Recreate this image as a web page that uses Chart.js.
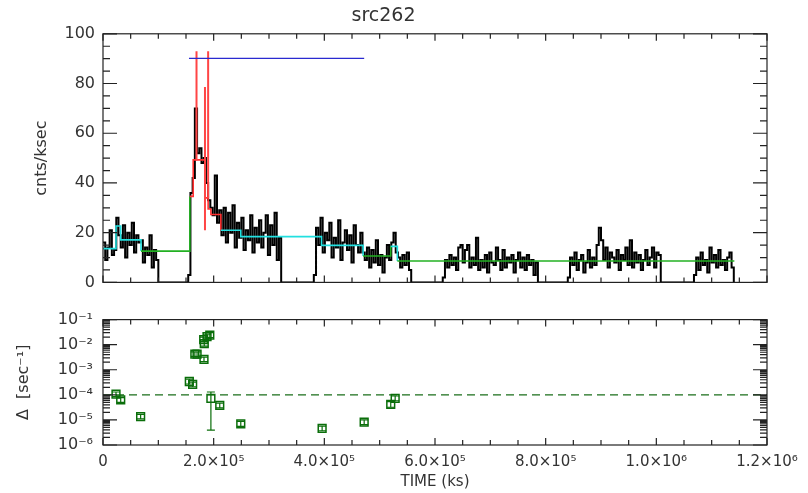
<!DOCTYPE html>
<html>
<head>
<meta charset="utf-8">
<script src="https://cdn.jsdelivr.net/npm/chart.js@4/dist/chart.umd.min.js"></script>
<style>
  body { margin: 0; background: #fff; }
  #wrap { position: relative; width: 808px; height: 493px; }
  canvas { position: absolute; left: 0; }
</style>
</head>
<body>
<div id="wrap">
  <canvas id="lcChart" width="808" height="300" style="top:0"></canvas>
  <canvas id="deltaChart" width="808" height="193" style="top:300px"></canvas>
</div>
<script>
// light curve: 4 ks bins, one array per good-time segment
const binWidth = 4000;
const segStart = [0, 1.54e5, 3.81e5, 6.14e5, 8.40e5, 1.068e6];
const rateA = [16, 9, 14, 21, 11, 13, 26, 19, 14, 23, 10, 20, 15, 24, 12, 19, 16, 17, 8, 14, 11, 19, 6, 13, 9];
const rateB = [3, 36, 42, 70, 52, 54, 48, 50, 40, 33, 30, 27, 43, 24, 29, 19, 30, 16, 28, 20, 31, 14, 24, 18, 26, 13, 21, 17, 27, 12, 22, 16, 25, 14, 20, 27, 11, 23, 15, 28, 9, 18];
const rateC = [3, 22, 15, 26, 12, 20, 17, 24, 10, 18, 14, 25, 9, 16, 21, 13, 19, 8, 23, 15, 12, 20, 12, 9, 14, 6, 13, 8, 17, 7, 11, 4, 10, 15, 9, 16, 20, 12, 10, 6, 11, 7, 12, 5];
const rateD = [2, 9, 6, 11, 7, 10, 5, 14, 15, 8, 13, 15, 6, 10, 7, 18, 5, 9, 6, 11, 4, 12, 8, 7, 14, 9, 5, 13, 6, 10, 8, 11, 4, 9, 12, 6, 10, 5, 11, 7, 9, 3, 8];
const rateE = [2, 10, 7, 12, 5, 9, 11, 4, 8, 13, 6, 10, 7, 15, 22, 17, 9, 14, 6, 12, 10, 8, 13, 5, 11, 9, 14, 7, 17, 6, 12, 8, 11, 5, 9, 13, 7, 10, 14, 6, 12, 11];
const rateF = [3, 10, 5, 12, 7, 9, 4, 14, 8, 11, 6, 13, 7, 9, 5, 10, 12, 6];
const segRates = [rateA, rateB, rateC, rateD, rateE, rateF];

// bayesian blocks
const blockStart = [0, 2.35e4, 3.2e4, 6.87e4, 1.57e5, 1.63e5, 1.84e5, 1.90e5, 1.95e5, 2.13e5, 2.49e5, 3.95e5, 4.70e5, 5.20e5, 5.32e5];
const blockLevel = [13.6, 22.7, 17.1, 12.6, 34.6, 49.3, 34.0, 29.5, 27.3, 21.0, 18.4, 14.9, 10.6, 14.5, 8.6];
const blockKind = ['c', 'c', 'c', 'g', 'r', 'r', 'r', 'r', 'r', 'c', 'c', 'c', 'g', 'c', 'g'];
const blockEnd = 1.141e6;

// flare markers
const spikeT = [1.69e5, 1.843e5, 1.90e5];
const spikeLow = [49, 21, 34];
const spikeHigh = [93, 78.6, 93];
const flareStart = 1.554e5, flareEnd = 4.72e5, flareLevel = 90.1;

// lower panel: Delta per block
const deltaT = [2.35e4, 3.2e4, 6.8e4, 1.56e5, 1.62e5, 1.66e5, 1.70e5, 1.82e5, 1.83e5, 1.825e5, 1.88e5, 1.93e5, 1.95e5, 2.11e5, 2.49e5, 3.96e5, 4.72e5, 5.20e5, 5.28e5];
const deltaVal = [1.07e-4, 6.3e-5, 1.34e-5, 3.4e-4, 2.6e-4, 4.2e-3, 4.2e-3, 1.6e-2, 1.1e-2, 2.6e-3, 2.1e-2, 2.4e-2, 7.2e-5, 3.8e-5, 7.0e-6, 4.6e-6, 8.1e-6, 4.2e-5, 7.2e-5];
const deltaLo = [8.5e-5, 5.0e-5, 1.1e-5, 2.7e-4, 2.1e-4, 3.4e-3, 3.4e-3, 1.3e-2, 8.8e-3, 2.1e-3, 1.7e-2, 1.9e-2, 3.9e-6, 3.0e-5, 5.5e-6, 3.7e-6, 6.5e-6, 3.2e-5, 5.8e-5];
const deltaHi = [1.3e-4, 7.8e-5, 1.65e-5, 4.2e-4, 3.2e-4, 5.2e-3, 5.2e-3, 2.0e-2, 1.4e-2, 3.2e-3, 2.6e-2, 3.0e-2, 1.3e-4, 4.7e-5, 8.8e-6, 5.7e-6, 1.0e-5, 5.4e-5, 9.0e-5];
const deltaThreshold = 1e-4;

// tick labels
const xTickValues = [0, 2e5, 4e5, 6e5, 8e5, 1e6, 1.2e6];
const xTickLabels = ['0', '2.0×10⁵', '4.0×10⁵', '6.0×10⁵', '8.0×10⁵', '1.0×10⁶', '1.2×10⁶'];
const logTickValues = [1e-6, 1e-5, 1e-4, 1e-3, 1e-2, 1e-1];
const logTickLabels = ['10⁻⁶', '10⁻⁵', '10⁻⁴', '10⁻³', '10⁻²', '10⁻¹'];

const textColor = '#333';
const axisColor = '#222';
const kindColor = { g: '#22b022', c: '#22e0e0', r: '#ff3030' };
Chart.defaults.font.family = "'DejaVu Sans', sans-serif";
Chart.defaults.color = textColor;

// IDL-ish box frame with inward ticks on all four sides
const idlFrame = {
  id: 'idlFrame',
  afterDatasetsDraw(chart, args, opts) {
    const { ctx, chartArea: a, scales: { x, y } } = chart;
    ctx.save();
    ctx.strokeStyle = axisColor;
    ctx.lineWidth = 1.2;
    ctx.strokeRect(a.left, a.top, a.right - a.left, a.bottom - a.top);
    ctx.beginPath();
    for (let v = x.min; v <= x.max + 1; v += opts.xMinor) {
      const px = x.getPixelForValue(v);
      const major = Math.abs(v / opts.xMajor - Math.round(v / opts.xMajor)) < 1e-6;
      const len = major ? 7 : 5;
      ctx.moveTo(px, a.bottom); ctx.lineTo(px, a.bottom - len);
      ctx.moveTo(px, a.top); ctx.lineTo(px, a.top + len);
    }
    const yt = [];
    if (opts.yLog) {
      const d0 = Math.round(Math.log10(y.min)), d1 = Math.round(Math.log10(y.max));
      for (let d = d0; d < d1; d++) {
        for (let m = 1; m < 10; m++) yt.push([m * Math.pow(10, d), m === 1]);
      }
      yt.push([y.max, true]);
    } else {
      for (let v = y.min; v <= y.max + 1e-9; v += opts.yMinor) {
        yt.push([v, Math.abs(v / opts.yMajor - Math.round(v / opts.yMajor)) < 1e-6]);
      }
    }
    yt.forEach(([v, major]) => {
      const py = y.getPixelForValue(v);
      const len = major ? 14 : 7;
      ctx.moveTo(a.left, py); ctx.lineTo(a.left + len, py);
      ctx.moveTo(a.right, py); ctx.lineTo(a.right - len, py);
    });
    ctx.stroke();
    ctx.restore();
  }
};

// error bars for the Delta points
const errBars = {
  id: 'errBars',
  afterDatasetsDraw(chart) {
    const { ctx, scales: { x, y } } = chart;
    ctx.save();
    ctx.strokeStyle = '#0a6e0a';
    ctx.lineWidth = 1.2;
    ctx.beginPath();
    deltaT.forEach((t, i) => {
      const px = x.getPixelForValue(t);
      const lo = y.getPixelForValue(deltaLo[i]);
      const hi = y.getPixelForValue(deltaHi[i]);
      ctx.moveTo(px, lo); ctx.lineTo(px, hi);
      ctx.moveTo(px - 4, lo); ctx.lineTo(px + 4, lo);
      ctx.moveTo(px - 4, hi); ctx.lineTo(px + 4, hi);
    });
    ctx.stroke();
    ctx.restore();
  }
};

// build the light curve points
const curve = [];
segRates.forEach((rates, k) => {
  rates.forEach((r, i) => curve.push({ x: segStart[k] + i * binWidth, y: r }));
  curve.push({ x: segStart[k] + rates.length * binWidth, y: 0 });
});

const blocks = blockStart.map((t, i) => ({ x: t, y: blockLevel[i] }));
blocks.push({ x: blockEnd, y: blockLevel[blockLevel.length - 1] });

const spikeSets = spikeT.map((t, i) => ({
  data: [{ x: t, y: spikeLow[i] }, { x: t, y: spikeHigh[i] }],
  borderColor: '#ff4545',
  borderWidth: 2,
  pointRadius: 0,
  order: 1
}));

// üìà Top panel: light curve
new Chart(document.getElementById('lcChart'), {
  type: 'line',
  data: {
    datasets: [
      {
        data: curve,
        stepped: 'before',
        borderColor: '#000',
        borderWidth: 2,
        pointRadius: 0,
        order: 10
      },
      {
        data: blocks,
        stepped: 'before',
        borderWidth: 1.6,
        pointRadius: 0,
        segment: { borderColor: c => kindColor[blockKind[c.p0DataIndex]] },
        order: 2
      },
      ...spikeSets,
      {
        data: [{ x: flareStart, y: flareLevel }, { x: flareEnd, y: flareLevel }],
        borderColor: '#2a2ad0',
        borderWidth: 1.3,
        pointRadius: 0,
        order: 0
      }
    ]
  },
  options: {
    responsive: false,
    animation: false,
    layout: { padding: { top: 0, right: 41, left: 0, bottom: 0 } },
    plugins: {
      legend: { display: false },
      tooltip: { enabled: false },
      title: {
        display: true,
        text: 'src262',
        font: { size: 19, weight: 'normal' },
        color: textColor,
        padding: { top: 5, bottom: 6 }
      },
      idlFrame: { xMinor: 5e4, xMajor: 2e5, yMinor: 5, yMajor: 20, yLog: false }
    },
    scales: {
      x: {
        type: 'linear',
        min: 0,
        max: 1.2e6,
        grid: { display: false, drawTicks: false },
        border: { display: false },
        ticks: { display: false },
        afterFit: s => { s.height = 9.4; }
      },
      y: {
        min: 0,
        max: 100,
        grid: { display: false, drawTicks: false },
        border: { display: false },
        ticks: { stepSize: 20, padding: 8, font: { size: 16 }, color: textColor },
        title: {
          display: true,
          text: 'cnts/ksec',
          font: { size: 16 },
          color: textColor,
          padding: { top: 32, bottom: 0 }
        },
        afterFit: s => { s.width = 103; }
      }
    }
  },
  plugins: [idlFrame]
});

// üìâ Bottom panel: Delta (log)
new Chart(document.getElementById('deltaChart'), {
  type: 'line',
  data: {
    datasets: [
      {
        data: deltaT.map((t, i) => ({ x: t, y: deltaVal[i] })),
        showLine: false,
        pointStyle: 'rect',
        pointRadius: 5.5,
        pointBorderWidth: 1.5,
        pointBorderColor: '#0a6e0a',
        pointBackgroundColor: 'rgba(0,0,0,0)',
        order: 0
      },
      {
        data: [{ x: 0, y: deltaThreshold }, { x: 1.2e6, y: deltaThreshold }],
        borderColor: '#1a6e1a',
        borderWidth: 1.3,
        borderDash: [8, 5],
        pointRadius: 0,
        order: 1
      }
    ]
  },
  options: {
    responsive: false,
    animation: false,
    layout: { padding: { top: 17, right: 41, left: 0, bottom: 0 } },
    plugins: {
      legend: { display: false },
      tooltip: { enabled: false },
      idlFrame: { xMinor: 5e4, xMajor: 2e5, yLog: true }
    },
    scales: {
      x: {
        type: 'linear',
        min: 0,
        max: 1.2e6,
        grid: { display: false, drawTicks: false },
        border: { display: false },
        afterBuildTicks: s => { s.ticks = xTickValues.map(v => ({ value: v })); },
        ticks: {
          autoSkip: false,
          maxRotation: 0,
          padding: 8,
          font: { size: 15 },
          color: textColor,
          callback: (v, i) => xTickLabels[i]
        },
        title: {
          display: true,
          text: 'TIME (ks)',
          font: { size: 15 },
          color: textColor,
          padding: { top: 0, bottom: 2 }
        },
        afterFit: s => { s.height = 48; }
      },
      y: {
        type: 'logarithmic',
        min: 1e-6,
        max: 1e-1,
        grid: { display: false, drawTicks: false },
        border: { display: false },
        afterBuildTicks: s => { s.ticks = logTickValues.map(v => ({ value: v })); },
        ticks: {
          autoSkip: false,
          padding: 10,
          font: { size: 16 },
          color: textColor,
          callback: (v, i) => logTickLabels[i]
        },
        title: {
          display: true,
          text: 'Δ  [sec⁻¹]',
          font: { size: 16 },
          color: textColor,
          padding: { top: 14, bottom: 0 }
        },
        afterFit: s => { s.width = 103; }
      }
    }
  },
  plugins: [idlFrame, errBars]
});
</script>
</body>
</html>
